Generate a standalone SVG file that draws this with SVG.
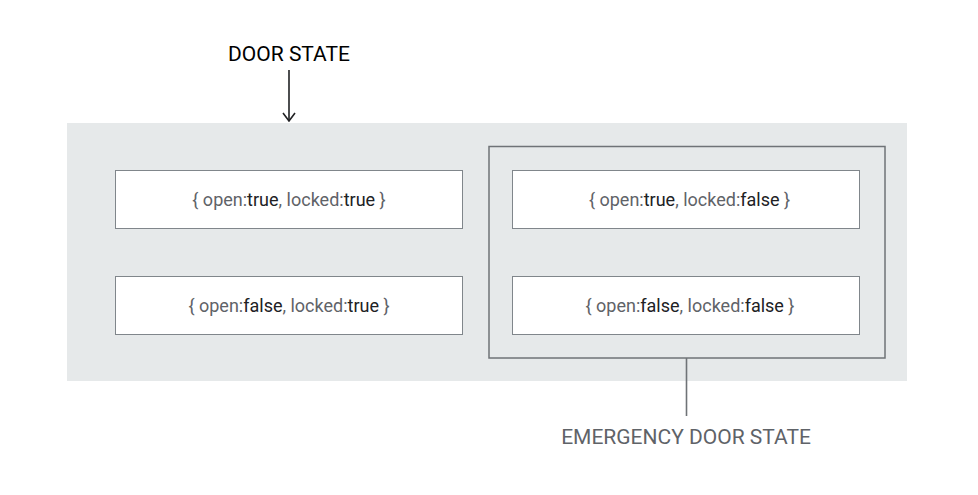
<svg xmlns="http://www.w3.org/2000/svg" width="978" height="495" viewBox="0 0 978 495">
<defs>
<marker id="arr" markerWidth="10" markerHeight="14" refX="9" refY="7" orient="auto" markerUnits="userSpaceOnUse" viewBox="0 0 10 14">
<path d="M1,1 L9,7 L1,13" fill="none" stroke="#202124" stroke-width="1.6"/>
</marker>
<style>
.bg{fill:#e6e9ea}
.box{fill:#ffffff;stroke:#80868b;stroke-width:1}
.frame{fill:none;stroke:#6f7377;stroke-width:1.5}
.t{font-family:Roboto,"Liberation Sans",sans-serif;font-size:18px;text-anchor:middle;fill:#5f6368}
.v{fill:#202124}
.lbl{font-family:Roboto,"Liberation Sans",sans-serif;font-size:21px;text-anchor:middle}
</style>
</defs>
<rect width="978" height="495" fill="#ffffff"/>
<rect class="bg" x="67" y="123" width="840" height="258"/>
<g id="emergency-frame">
<rect class="frame" x="489" y="146.5" width="396" height="211.5"/>
</g>
<g id="node-open-true-locked-true">
<rect class="box" x="115.5" y="170.5" width="347" height="58"/>
<text class="t" x="289" y="205.5">{ open:<tspan class="v">true</tspan>, locked:<tspan class="v">true</tspan> }</text>
</g>
<g id="node-open-false-locked-true">
<rect class="box" x="115.5" y="276.5" width="347" height="58"/>
<text class="t" x="289" y="311.5">{ open:<tspan class="v">false</tspan>, locked:<tspan class="v">true</tspan> }</text>
</g>
<g id="node-open-true-locked-false">
<rect class="box" x="512.5" y="170.5" width="347" height="58"/>
<text class="t" x="689.5" y="205.5">{ open:<tspan class="v">true</tspan>, locked:<tspan class="v">false</tspan> }</text>
</g>
<g id="node-open-false-locked-false">
<rect class="box" x="512.5" y="276.5" width="347" height="58"/>
<text class="t" x="690" y="311.5">{ open:<tspan class="v">false</tspan>, locked:<tspan class="v">false</tspan> }</text>
</g>
<g id="label-door-state">
<text class="lbl" x="289" y="61" fill="#000000">DOOR STATE</text>
</g>
<g id="label-emergency">
<text class="lbl" x="686" y="444" fill="#5f6368">EMERGENCY DOOR STATE</text>
</g>
<g id="connectors">
<line x1="289" y1="70" x2="289" y2="121" stroke="#202124" stroke-width="1.6" marker-end="url(#arr)"/>
<line x1="686.5" y1="358" x2="686.5" y2="416" stroke="#6f7377" stroke-width="1.6"/>
</g>
</svg>
